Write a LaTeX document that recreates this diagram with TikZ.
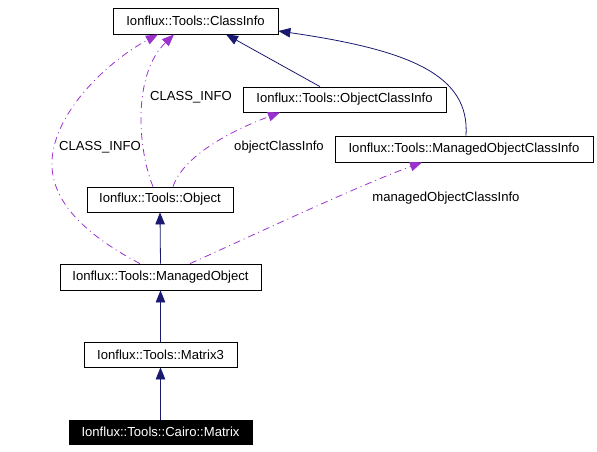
\documentclass[tikz,border=0pt]{standalone}
\usepackage{fontspec}
\setmainfont{Liberation Sans}
\usetikzlibrary{arrows.meta}
\definecolor{navy}{HTML}{191970}
\definecolor{orch}{HTML}{9A32CD}
\begin{document}
\begin{tikzpicture}[x=1pt,y=-1pt,
  cls/.style={draw=black,line width=0.8pt,inner sep=0pt,font=\fontsize{13.1}{15}\selectfont},
  inh/.style={draw=navy,line width=0.8pt,-{Triangle[length=12pt,width=9.5pt]}},
  use/.style={draw=orch,line width=0.8pt,dash pattern=on 7pt off 4pt on 1pt off 4pt,-{Triangle[length=12pt,width=9.5pt]}},
  lbl/.style={font=\fontsize{13.1}{15}\selectfont,inner sep=0pt}]
\useasboundingbox (0,0) rectangle (597,451);
\node[cls,minimum width=165pt,minimum height=26pt] (ci) at (195.5,21) {Ionflux::Tools::ClassInfo};
\node[cls,minimum width=203pt,minimum height=25pt] (oci) at (344.5,99.5) {Ionflux::Tools::ObjectClassInfo};
\node[cls,minimum width=258pt,minimum height=26pt] (moci) at (464,149) {Ionflux::Tools::ManagedObjectClassInfo};
\node[cls,minimum width=146pt,minimum height=25pt] (obj) at (160,199.5) {Ionflux::Tools::Object};
\node[cls,minimum width=201pt,minimum height=26pt] (mo) at (160.5,277) {Ionflux::Tools::ManagedObject};
\node[cls,minimum width=153pt,minimum height=25pt] (m3) at (160.5,354.5) {Ionflux::Tools::Matrix3};
\node[cls,fill=black,text=white,minimum width=183pt,minimum height=24pt] (cm) at (160.5,432) {Ionflux::Tools::Cairo::Matrix};
% inheritance
\draw[inh] (cm.north) -- (m3.south);
\draw[inh] (m3.north) -- (mo.south);
\draw[inh] (mo.north) -- (obj.south);
\draw[inh] (oci.north -| 320,0) -- (ci.south -| 226,0);
\draw[inh] (moci.north -| 466,0) .. controls (470,75) and (410,50) .. (ci.east |- 0,31);
% usage
\draw[use] (obj.north -| 153,0) .. controls (138,150) and (132,75) .. (ci.south -| 174,0);
\draw[use] (mo.north -| 140,0) .. controls (80,232) and (50,198) .. (52,160) .. controls (55,110) and (110,60) .. (ci.south -| 158,0);
\draw[use] (obj.north -| 173,0) .. controls (182,160) and (220,135) .. (oci.south -| 280,0);
\draw[use] (mo.north -| 190,0) .. controls (260,232) and (360,185) .. (moci.south -| 422,0);
% labels
\node[lbl] (l1) at (191,97) {CLASS\_INFO};
\node[lbl] (l2) at (100,147) {CLASS\_INFO};
\node[lbl] (l3) at (279,147) {objectClassInfo};
\node[lbl] (l4) at (446,198) {managedObjectClassInfo};
\end{tikzpicture}
\end{document}
